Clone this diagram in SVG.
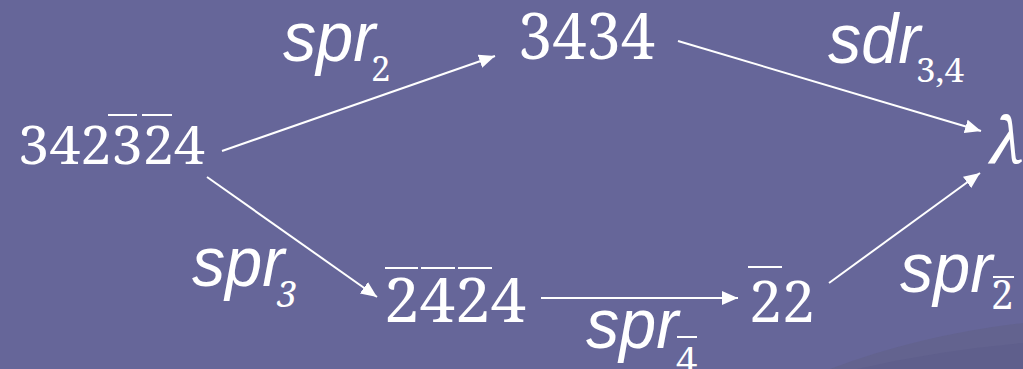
<svg xmlns="http://www.w3.org/2000/svg" width="1023" height="369" viewBox="0 0 1023 369">
<defs>
<style>
.num{font-family:"Noto Serif","DejaVu Serif",serif;fill:#fff}
.lab{font-family:"Liberation Sans",Arial,sans-serif;font-style:italic;font-size:70px;fill:#fff}
.sub{font-family:"Noto Serif","DejaVu Serif",serif;fill:#fff}
.bar{stroke:#fff;stroke-width:2}
.edge{stroke:#fff;stroke-width:2;fill:none;marker-end:url(#ah)}
</style>
<marker id="ah" markerUnits="userSpaceOnUse" markerWidth="18" markerHeight="14" refX="16" refY="7" orient="auto">
<path d="M0,0 L16,7 L0,14 Z" fill="#fff"/>
</marker>
</defs>
<rect width="1023" height="369" fill="#666699"/>
<path d="M830,369 Q920,335 1023,323 L1023,369 Z" fill="#63638f"/>
<path d="M857,369 Q940,350 1023,343 L1023,369 Z" fill="#5f5f8c"/>

<g id="connectors">
<line class="edge" x1="222" y1="151" x2="495" y2="56"/>
<line class="edge" x1="678" y1="41" x2="981" y2="131"/>
<line class="edge" x1="207" y1="177" x2="377" y2="297"/>
<line class="edge" x1="541" y1="298" x2="738" y2="298"/>
<line class="edge" x1="829" y1="283" x2="980" y2="173"/>
</g>

<g id="n-start">
<text class="num" x="18" y="164" font-size="53" textLength="187" lengthAdjust="spacingAndGlyphs">342324</text>
<line class="bar" x1="108" y1="115" x2="137" y2="115"/>
<line class="bar" x1="142" y1="115" x2="172" y2="115"/>
</g>
<g id="n-3434">
<text class="num" x="518" y="59" font-size="64" textLength="137" lengthAdjust="spacingAndGlyphs">3434</text>
</g>
<g id="n-2424">
<text class="num" x="384" y="322" font-size="62" textLength="142" lengthAdjust="spacingAndGlyphs">2424</text>
<line class="bar" x1="385" y1="268" x2="418" y2="268"/>
<line class="bar" x1="421" y1="268" x2="455" y2="268"/>
<line class="bar" x1="458" y1="268" x2="492" y2="268"/>
</g>
<g id="n-22">
<text class="num" x="749" y="322" font-size="57" textLength="66" lengthAdjust="spacingAndGlyphs">22</text>
<line class="bar" x1="748" y1="267" x2="782" y2="267"/>
</g>
<g id="n-lambda">
<text class="num" x="989" y="163" font-size="64" font-style="italic">λ</text>
</g>

<g id="l-spr2">
<text class="lab" transform="translate(283,61) scale(0.95,1)">spr</text>
<text class="sub" x="371" y="81" font-size="35">2</text>
</g>
<g id="l-sdr34">
<text class="lab" transform="translate(828,63) scale(0.95,1)">sdr</text>
<text class="sub" x="916" y="82" font-size="33" textLength="48" lengthAdjust="spacingAndGlyphs">3,4</text>
</g>
<g id="l-spr3">
<text class="lab" transform="translate(192,286) scale(0.95,1)">spr</text>
<text class="sub" x="277" y="307" font-size="36" font-style="italic">3</text>
</g>
<g id="l-spr4">
<text class="lab" transform="translate(586,348) scale(0.95,1)">spr</text>
<text class="sub" x="676" y="374" font-size="38">4</text>
<line class="bar" x1="677" y1="337" x2="697" y2="337"/>
</g>
<g id="l-spr2bar">
<text class="lab" transform="translate(900,292) scale(0.95,1)">spr</text>
<text class="sub" x="991" y="309" font-size="40">2</text>
<line class="bar" x1="993" y1="277" x2="1014" y2="277"/>
</g>
</svg>
